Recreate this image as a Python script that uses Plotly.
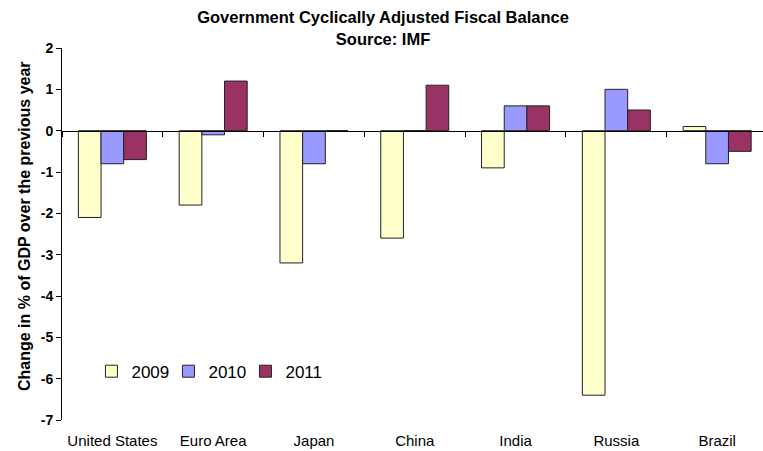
import plotly.graph_objects as go

# Cyclically adjusted fiscal balance, change in % of GDP over the previous year
countries = ["United States", "Euro Area", "Japan", "China", "India", "Russia", "Brazil"]
years = ["2009", "2010", "2011"]
values_2009 = [-2.1, -1.8, -3.2, -2.6, -0.9, -6.4, 0.1]
values_2010 = [-0.8, -0.1, -0.8, 0.0, 0.6, 1.0, -0.8]
values_2011 = [-0.7, 1.2, 0.0, 1.1, 0.6, 0.5, -0.5]
colors = ["#FFFFCC", "#9999FF", "#993366"]

y_ticks = [2, 1, 0, -1, -2, -3, -4, -5, -6, -7]
y_tick_text = ["<b>%d</b>" % v for v in y_ticks]  # hyphen-minus, as in spreadsheet charts
y_min, y_max = -7, 2
W, H = 763, 451
m_l, m_r, m_t, m_b = 62, 0, 48, 31
plot_w = W - m_l - m_r
plot_h = H - m_t - m_b

fig = go.Figure()
for name, vals, col in zip(years, [values_2009, values_2010, values_2011], colors):
    fig.add_trace(go.Bar(
        x=countries, y=vals, name=name,
        marker=dict(color=col, line=dict(color="#222222", width=1)),
    ))

# zero-crossing category axis with tick marks between the groups
frac_zero = (0 - y_min) / (y_max - y_min)
fig.add_trace(go.Scatter(x=countries, y=[None] * len(countries), xaxis="x2",
                         showlegend=False, hoverinfo="skip"))

x_range = [-0.5, 6.455]
fig.update_layout(
    width=W, height=H,
    margin=dict(l=m_l, r=m_r, t=m_t, b=m_b),
    paper_bgcolor="white", plot_bgcolor="white",
    barmode="group", bargap=0.325, bargroupgap=0,
    font=dict(family="Liberation Sans, Arial, sans-serif", color="black"),
    title=dict(
        text="<b>Government Cyclically Adjusted Fiscal Balance<br>Source: IMF</b>",
        x=0.502, xanchor="center", y=0.948, yanchor="top",
        font=dict(size=16.5),
    ),
    xaxis=dict(
        range=x_range, showline=False, showgrid=False, zeroline=False,
        ticks="", tickfont=dict(size=15), ticklabelstandoff=10,
    ),
    xaxis2=dict(
        range=x_range, overlaying="x", anchor="free", position=frac_zero,
        showline=True, linecolor="black", linewidth=1,
        ticks="outside", tickson="boundaries", ticklen=5, tickcolor="black",
        showticklabels=False, showgrid=False, zeroline=False,
    ),
    yaxis=dict(
        range=[y_min, y_max], showgrid=False, zeroline=False,
        tickmode="array", tickvals=y_ticks, ticktext=y_tick_text,
        showline=True, linecolor="black", linewidth=1,
        ticks="outside", ticklen=5, tickcolor="black",
        tickfont=dict(size=14),
    ),
    legend=dict(
        orientation="h", x=0.042, xanchor="left", y=0.13, yanchor="middle",
        font=dict(size=17), bgcolor="rgba(0,0,0,0)",
        entrywidth=32, entrywidthmode="pixels", itemwidth=30,
    ),
    annotations=[dict(
        text="<b>Change in % of GDP over the previous year</b>",
        textangle=-90, showarrow=False,
        xref="paper", yref="paper",
        x=(24 - m_l) / plot_w, y=(H - m_b - 226) / plot_h,
        xanchor="center", yanchor="middle",
        font=dict(size=16),
    )],
)

fig.write_html("out.html")
